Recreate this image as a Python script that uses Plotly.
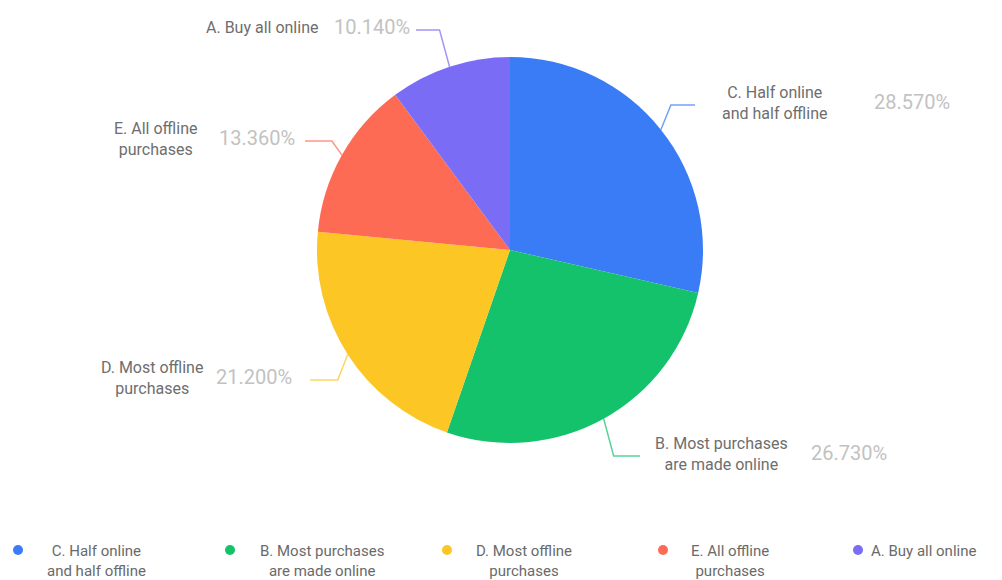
import math
import plotly.graph_objects as go

# Survey answers, in clockwise order starting at 12 o'clock
categories = [
    "C. Half online<br>and half offline",
    "B. Most purchases<br>are made online",
    "D. Most offline<br>purchases",
    "E. All offline<br>purchases",
    "A. Buy all online",
]
shares = [28.57, 26.73, 21.20, 13.36, 10.14]
colors = ["#3a7cf6", "#14c26c", "#fcc624", "#fe6b55", "#7a6cf4"]

W, H = 1002, 580
CX, CY, R = 510, 250, 193  # pie centre and radius in pixels


def px(x):
    return x / W


def py(y):
    return 1 - y / H


fig = go.Figure(
    go.Pie(
        labels=[c.replace("<br>", " ") for c in categories],
        values=shares,
        sort=False,
        direction="clockwise",
        rotation=0,
        textinfo="none",
        hoverinfo="label+percent",
        marker=dict(colors=colors, line=dict(width=0)),
        domain=dict(x=[px(CX - R), px(CX + R)], y=[py(CY + R), py(CY - R)]),
        showlegend=False,
    )
)

# Outside label layout per slice: (name x, name anchor, label y, pct x, leader end x)
label_layout = [
    dict(name_x=774, name_anchor="center", y=103, pct_x=872, end_x=695),
    dict(name_x=721, name_anchor="center", y=454, pct_x=809, end_x=640),
    dict(name_x=152, name_anchor="center", y=378, pct_x=214, end_x=310),
    dict(name_x=155, name_anchor="center", y=139, pct_x=217, end_x=305),
    dict(name_x=320, name_anchor="right", y=27, pct_x=332, end_x=416),
]

NAME_FONT = dict(family="Roboto", size=16, color="#6e6e6e")
PCT_FONT = dict(family="Roboto", size=20, color="#c2c2c2")

annotations = []
shapes = []
total = sum(shares)
cum = 0.0
for cat, val, col, lay in zip(categories, shares, colors, label_layout):
    mid = (cum + val / 2) / total * 2 * math.pi
    cum += val
    ex = CX + R * math.sin(mid)
    ey = CY - R * math.cos(mid)
    ly = lay["y"] + (2 if "<br>" in cat else 3)
    side = 1 if math.sin(mid) > 0 else -1
    kx = ex + side * 10
    shapes.append(
        dict(
            type="path",
            xref="paper",
            yref="paper",
            path=f"M {px(ex)} {py(ey)} L {px(kx)} {py(ly)} L {px(lay['end_x'])} {py(ly)}",
            line=dict(color=col, width=1.5),
            opacity=0.7,
        )
    )
    annotations.append(
        dict(
            x=px(lay["name_x"]),
            y=py(lay["y"]),
            xref="paper",
            yref="paper",
            text=cat,
            showarrow=False,
            xanchor=lay["name_anchor"],
            yanchor="middle",
            align="center",
            font=NAME_FONT,
        )
    )
    annotations.append(
        dict(
            x=px(lay["pct_x"]),
            y=py(lay["y"] - (1 if "<br>" in cat else 0)),
            xref="paper",
            yref="paper",
            text=f"{val:.3f}%",
            showarrow=False,
            xanchor="left",
            yanchor="middle",
            font=PCT_FONT,
        )
    )

# Bottom legend: dot plus centred caption for each category
legend_dot_x = [18, 230, 447, 663, 858]
legend_text_x = [96, 322, 524, 730, 869]
for i, (cat, col) in enumerate(zip(categories, colors)):
    dx = legend_dot_x[i]
    shapes.append(
        dict(
            type="circle",
            xref="paper",
            yref="paper",
            x0=px(dx - 5),
            x1=px(dx + 5),
            y0=py(550 + 5),
            y1=py(550 - 5),
            fillcolor=col,
            line=dict(width=0),
        )
    )
    two_line = "<br>" in cat
    annotations.append(
        dict(
            x=px(legend_text_x[i]),
            y=py(561 if two_line else 551),
            xref="paper",
            yref="paper",
            text=cat,
            showarrow=False,
            xanchor="center" if two_line else "left",
            yanchor="middle",
            align="center",
            font=dict(family="Roboto", size=15, color="#6a6a6a"),
        )
    )

fig.update_layout(
    width=W,
    height=H,
    margin=dict(l=0, r=0, t=0, b=0),
    paper_bgcolor="white",
    plot_bgcolor="white",
    annotations=annotations,
    shapes=shapes,
)

fig.write_html("out.html")
